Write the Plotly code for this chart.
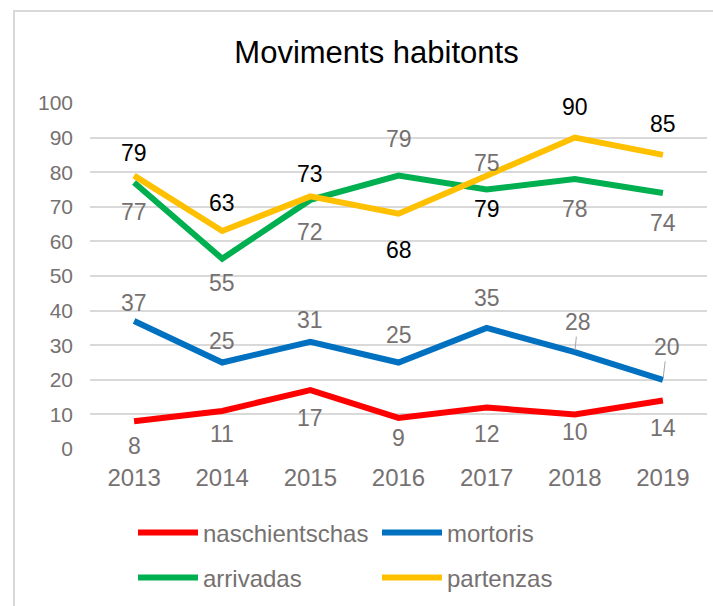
import plotly.graph_objects as go

# dades
anns = ['2013', '2014', '2015', '2016', '2017', '2018', '2019']
naschientschas = [8, 11, 17, 9, 12, 10, 14]
mortoris = [37, 25, 31, 25, 35, 28, 20]
arrivadas = [77, 55, 72, 79, 75, 78, 74]
partenzas = [79, 63, 73, 68, 79, 90, 85]

grey = '#767171'
font = 'Liberation Sans, Arial, sans-serif'

# (name, values, color, label color, legend, label offset px (+ = down))
series = [
    ('naschientschas', naschientschas, '#FF0000', grey, 'legend',
     [25, 23, 28, 20, 27, 18, 27]),
    ('mortoris', mortoris, '#0070C0', grey, 'legend',
     [-18, -22, -22, -28, -30, -30, -33]),
    ('arrivadas', arrivadas, '#00B050', grey, 'legend2',
     [29, 24, 32, -37, -27, 30, 30]),
    ('partenzas', partenzas, '#FFC000', 'black', 'legend2',
     [-23, -28, -22, 36, 33, -31, -31]),
]
# labels moved by hand in the original -> leader lines
leaders = {('mortoris', 5): 3, ('mortoris', 6): 4}

fig = go.Figure()
annotations = []
for name, vals, color, lcolor, leg, offs in series:
    fig.add_trace(go.Scatter(x=anns, y=vals, name=name, mode='lines',
                             line=dict(color=color, width=6),
                             legend=leg, hoverinfo='x+y+name'))
    for i, v in enumerate(vals):
        # x as category index on the category axis
        a = dict(x=i, y=v, xref='x', yref='y', text=str(v),
                 font=dict(family=font, size=23, color=lcolor))
        if (name, i) in leaders:
            a.update(showarrow=True, arrowhead=0, arrowwidth=1,
                     arrowcolor='#A6A6A6', ax=leaders[(name, i)], ay=offs[i],
                     standoff=2)
        else:
            a.update(showarrow=False, yshift=-offs[i])
        annotations.append(a)

# chart frame (Excel chart area border)
fig.add_shape(type='rect', xref='paper', yref='paper',
              x0=(14 - 90) / 617, x1=(760 - 90) / 617,
              y0=(449 - 700) / 346, y1=1 + (103 - 11) / 346,
              line=dict(color='#D9D9D9', width=2), layer='below')

leg_x = (133 - 90) / 617
fig.update_layout(
    width=713, height=606,
    margin=dict(l=90, r=6, t=103, b=157),
    paper_bgcolor='white', plot_bgcolor='white',
    font=dict(family=font, color=grey),
    title=dict(text='Moviments habitonts', x=376.5 / 713, xanchor='center',
               y=1 - 52 / 606, yanchor='middle',
               font=dict(family=font, size=31, color='black')),
    xaxis=dict(type='category', range=[-0.5, 6.5], showgrid=False,
               showline=False, zeroline=False, ticks='',
               tickfont=dict(size=24, color=grey), ticklabelstandoff=12),
    yaxis=dict(range=[0, 100], dtick=10, showgrid=True, gridcolor='#D9D9D9',
               gridwidth=1.5, zeroline=False, showline=False, ticks='',
               tickfont=dict(size=21, color=grey), ticklabelstandoff=16),
    legend=dict(orientation='h', x=leg_x, xanchor='left',
                y=(449 - 533) / 346, yanchor='middle', entrywidth=169,
                itemwidth=60, font=dict(size=24, color=grey),
                bgcolor='rgba(0,0,0,0)'),
    legend2=dict(orientation='h', x=leg_x, xanchor='left',
                 y=(449 - 578) / 346, yanchor='middle', entrywidth=169,
                 itemwidth=60, font=dict(size=24, color=grey),
                 bgcolor='rgba(0,0,0,0)'),
    annotations=annotations,
    showlegend=True,
)

# page has a default 8px body margin, drop it so the chart sits at 0,0
fig.write_html("out.html", config={'displayModeBar': False},
               post_script="document.body.style.margin='0';")
